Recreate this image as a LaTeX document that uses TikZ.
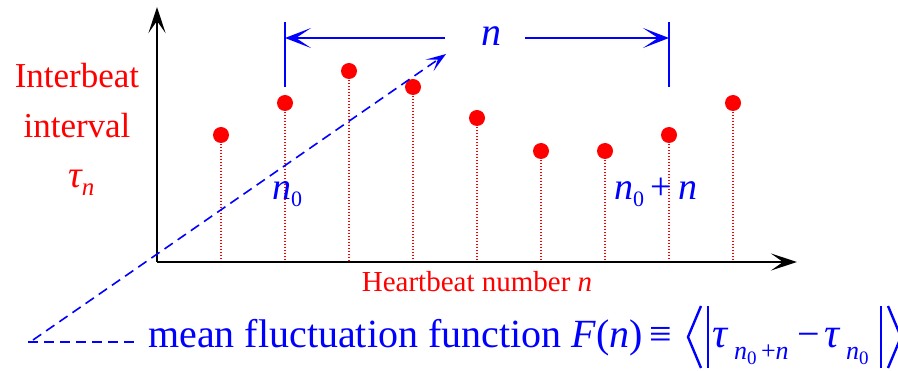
\documentclass[tikz,border=0pt]{standalone}
\usepackage{fontspec}
\setmainfont{Liberation Serif}
\usetikzlibrary{arrows.meta}
\definecolor{myblue}{RGB}{0,0,255}
\definecolor{myred}{RGB}{255,0,0}
\newcommand{\fs}[1]{\fontsize{#1}{#1}\selectfont}
\begin{document}
\begin{tikzpicture}[x=1pt,y=-1pt,
  axis/.style={black,line width=2.6pt,-{Stealth[length=26pt,width=17pt,inset=12pt]}},
  dot/.style={circle,fill=myred,inner sep=0pt,minimum size=16pt},
  stem/.style={myred,line width=1.4pt,dash pattern=on 1.5pt off 1.5pt},
  brk/.style={myblue,line width=2.4pt},
  harr/.style={myblue,line width=2.4pt,-{Stealth[length=26pt,width=20pt,inset=15pt]}},
  dsh/.style={myblue,line width=1.6pt,dash pattern=on 10pt off 6pt},
  delim/.style={myblue,line width=2.4pt},
  lbl/.style={inner sep=0pt}]
\useasboundingbox (0,0) rectangle (898,371);
% axes
\coordinate (O) at (157,262);
\coordinate (ytip) at (157,7);
\coordinate (xtip) at (797,262);
\draw[axis] (O) -- (ytip);
\draw[axis] (O) -- (xtip);
% dots and stems
\foreach \i/\x/\y in {1/221/135,2/285/103,3/349/71,4/413/87,5/477/118,6/541/151,7/605/151,8/669/135,9/733/103}{
  \node[dot] (d\i) at (\x,\y) {};
  \coordinate (b\i) at (\x,261);
  \draw[stem] (d\i.center) -- (b\i);
}
% bracket
\coordinate (l1) at (285,22);
\coordinate (l2) at (285,87);
\coordinate (r1) at (669,22);
\coordinate (r2) at (669,87);
\draw[brk] (l1) -- (l2);
\draw[brk] (r1) -- (r2);
\node[lbl,myblue] (nlab) at (491,36) {\fs{40}\itshape n};
\coordinate (al) at (285,38);
\coordinate (ar) at (669,38);
\coordinate (as) at (445,38);
\coordinate (bs) at (525,38);
\draw[harr] (as) -- (al);
\draw[harr] (bs) -- (ar);
% dashed lines
\coordinate (p0) at (28,342);
\coordinate (p1) at (136,342);
\coordinate (q0) at (33,340);
\coordinate (q1) at (446,54);
\draw[dsh] (p0) -- (p1);
\draw[dsh,-{Stealth[length=20pt,width=14pt,inset=10pt]}] (q0) -- (q1);
% labels
\node[lbl,myred,anchor=base] (ib) at (77,88) {\fs{35}Interbeat};
\node[lbl,myred,anchor=base] (iv) at (77,138) {\fs{35}interval};
\node[lbl,myred,anchor=base west] (tn) at (68,188) {\fs{38}\itshape τ\raisebox{-8pt}{\fs{25}n}};
\node[lbl,myred,anchor=base] (hb) at (477,292) {\fs{29}Heartbeat number \textit{n}};
\node[lbl,myblue,anchor=base west] (n0) at (272,200) {\fs{38}\itshape n\raisebox{-7pt}{\fs{22}\upshape 0}};
\node[lbl,myblue,anchor=base west] (n0n) at (614,200) {\fs{38}\itshape n\raisebox{-7pt}{\fs{22}\upshape 0}\,\upshape +\,\itshape n};
% formula
\node[lbl,myblue,anchor=base west] (mf) at (148,348) {\fs{40}mean fluctuation function \textit{F}(\textit{n})\,≡};
\node[lbl,myblue,anchor=base west] (t1) at (712,348) {\fs{42}\itshape τ\,\raisebox{-12pt}{\fs{26}n\raisebox{-5pt}{\fs{19}\upshape 0}\,\upshape +\itshape n}};
\node[lbl,myblue,anchor=base west] (mn) at (797,348) {\fs{40}−};
\node[lbl,myblue,anchor=base west] (t2) at (824,348) {\fs{42}\itshape τ\,\raisebox{-12pt}{\fs{26}n\raisebox{-5pt}{\fs{19}\upshape 0}}};
\coordinate (la1) at (701,306);
\coordinate (la2) at (688,337);
\coordinate (la3) at (701,368);
\coordinate (lb1) at (708,306);
\coordinate (lb2) at (708,368);
\coordinate (rb1) at (881,306);
\coordinate (rb2) at (881,368);
\coordinate (ra1) at (888,306);
\coordinate (ra2) at (901,337);
\coordinate (ra3) at (888,368);
\draw[delim] (la1) -- (la2) -- (la3);
\draw[delim] (lb1) -- (lb2);
\draw[delim] (rb1) -- (rb2);
\draw[delim] (ra1) -- (ra2) -- (ra3);
\end{tikzpicture}
\end{document}
